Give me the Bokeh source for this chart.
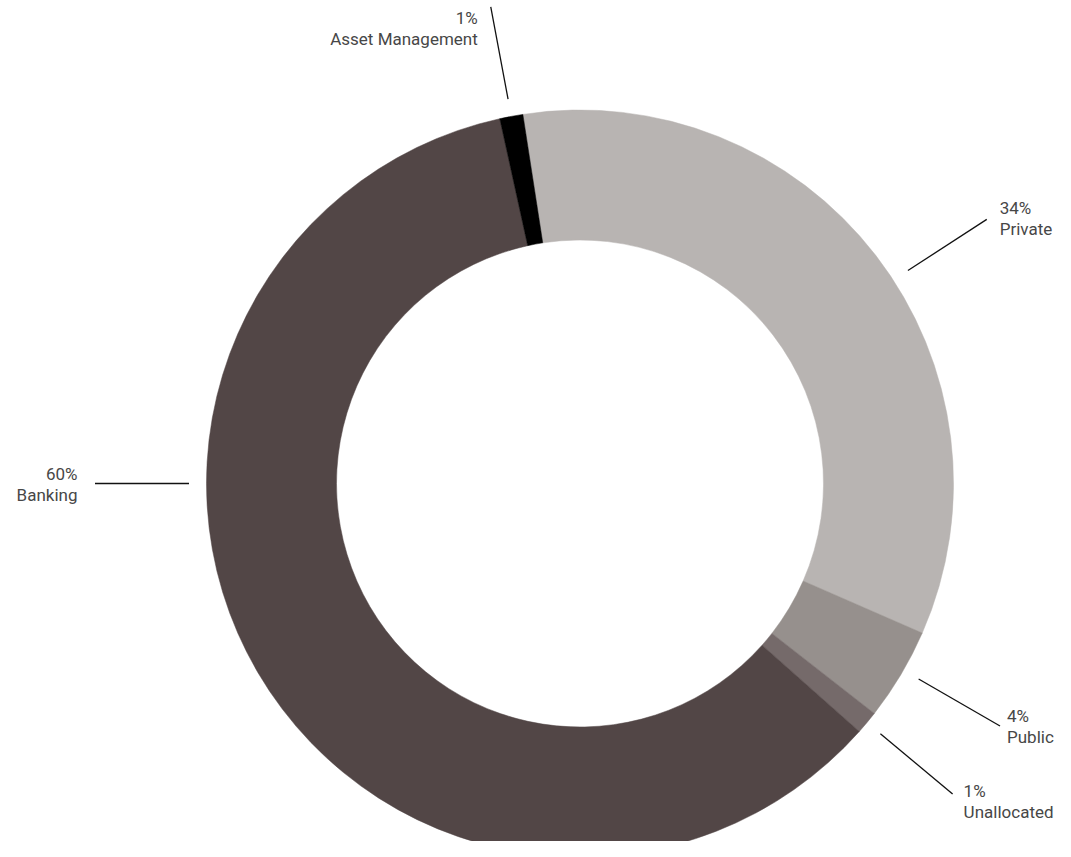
import math
from bokeh.plotting import figure
from bokeh.models import Range1d, ColumnDataSource
from bokeh.core.properties import value
from bokeh.embed import file_html
from bokeh.resources import INLINE

# ---- data ----
categories = ["Private", "Public", "Unallocated", "Banking", "Asset Management"]
shares = [34, 4, 1, 60, 1]
pct_labels = ["34%", "4%", "1%", "60%", "1%"]
colors = ["#b8b4b2", "#96908d", "#756a6a", "#524646", "#000000"]

# ---- layout ----
W, H = 1055, 841
PAGE_H = 857
CX, CY = 579.5, PAGE_H - 483       # donut centre in data units (1 unit = 1 px)
R_OUT, R_IN = 373.5, 243.5
START = -8.8                        # clockwise from 12 o'clock, degrees
LEAD_R1, LEAD_R2 = 391, 485
leader_override = {"Private": 57, "Public": 120, "Banking": 270}
block_shift = {"Private": -1, "Public": 0, "Unallocated": 7.5, "Banking": 1, "Asset Management": 21.5}
text_gap = {"Private": 13, "Public": 7, "Unallocated": 11, "Banking": 17.5, "Asset Management": 13}
LINE_GAP = 10.5

total = float(sum(shares))
t0, t1, mids = [], [], []
acc = START
for s in shares:
    a = s / total * 360.0
    t0.append(acc)
    t1.append(acc + a)
    mids.append(acc + a / 2)
    acc += a

def to_bokeh(theta):
    return math.radians(90.0 - theta)

src = ColumnDataSource(dict(
    cat=categories,
    start=[to_bokeh(a) for a in t0],
    end=[to_bokeh(b) for b in t1],
    color=colors,
))

p = figure(width=W, height=H, x_range=Range1d(0, W), y_range=Range1d(PAGE_H - H, PAGE_H),
           output_backend="svg", toolbar_location=None, min_border=0,
           outline_line_color=None, background_fill_color="white", border_fill_color="white")
p.axis.visible = False
p.grid.visible = False

p.annular_wedge(x=CX, y=CY, inner_radius=R_IN, outer_radius=R_OUT,
                start_angle="start", end_angle="end", direction="clock",
                fill_color="color", line_color="color", line_width=0.5, source=src)

lx0, ly0, lx1, ly1 = [], [], [], []
tx, ty_p, ty_n, aligns = [], [], [], []
for c, m in zip(categories, mids):
    th = math.radians(leader_override.get(c, m))
    sx, sy = math.sin(th), math.cos(th)
    x0, y0 = CX + LEAD_R1 * sx, CY + LEAD_R1 * sy
    x1, y1 = CX + LEAD_R2 * sx, CY + LEAD_R2 * sy
    lx0.append(x0); ly0.append(y0); lx1.append(x1); ly1.append(y1)
    right = sx > 0.05
    g = text_gap[c]
    tx.append(x1 + g if right else x1 - g)
    aligns.append("left" if right else "right")
    cyb = y1 - block_shift[c]
    ty_p.append(cyb + LINE_GAP)
    ty_n.append(cyb - LINE_GAP)

p.segment(x0=lx0, y0=ly0, x1=lx1, y1=ly1, line_color="#111111", line_width=1.3)

lab = ColumnDataSource(dict(x=tx, yp=ty_p, yn=ty_n, pct=pct_labels, name=categories, align=aligns))
for ycol, tcol in (("yp", "pct"), ("yn", "name")):
    p.text(x="x", y=ycol, text=tcol, source=lab, text_align="align", text_baseline="middle",
           text_font=value("Roboto"), text_font_size="17px", text_color="#474747")

open("out.html", "w").write(file_html(p, INLINE))
